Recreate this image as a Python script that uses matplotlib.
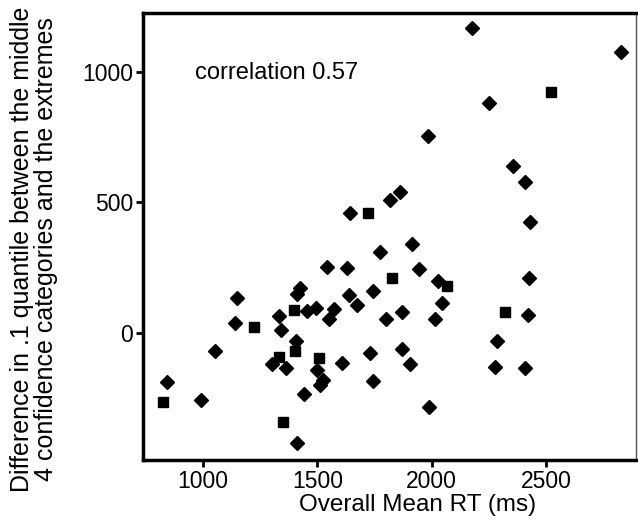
import matplotlib
matplotlib.use("Agg")
from matplotlib import pyplot as plt

plt.rcParams['font.family'] = ['Liberation Sans', 'DejaVu Sans']

# overall mean RT (ms) and difference in .1 quantile
sq_rt = [1720, 1825, 2066, 2319, 2520, 1397, 1223, 1402, 1507, 1332, 825, 1349]
sq_diff = [460, 211, 180, 80, 923, 88, 23, -69, -96, -92, -264, -341]

dm_rt = [2175, 2825, 2249, 1983, 2354, 2406, 1860, 1817, 2428, 1642,
         1913, 1773, 1943, 2026, 2424, 2044, 1869, 1799, 2013, 2419,
         2284, 1869, 1904, 2275, 2406, 1987,
         1541, 1629, 1424, 1410, 1148, 1638, 1672, 1742, 1454, 1493,
         1572, 1550, 1332, 1140, 1341, 1052, 1406, 1729, 1607, 1498,
         1524, 1511, 1301, 1362, 1742, 843, 991, 1441, 1410]
dm_diff = [1169, 1077, 881, 755, 640, 579, 540, 510, 425, 460,
           341, 310, 245, 199, 211, 115, 80, 54, 54, 69,
           -31, -61, -119, -130, -134, -284,
           253, 249, 172, 149, 134, 146, 107, 161, 84, 96,
           92, 54, 65, 38, 11, -69, -31, -77, -115, -142,
           -180, -199, -119, -134, -184, -188, -257, -234, -421]

fig = plt.figure(figsize=(6.38, 5.21), dpi=100)
ax = fig.add_axes([0.224, 0.117, 0.773, 0.858])

ax.plot(dm_rt, dm_diff, linestyle='none', marker='D', markersize=7, color='black')
ax.plot(sq_rt, sq_diff, linestyle='none', marker='s', markersize=7.5, color='black')

ax.set_xlim(738, 2893)
ax.set_ylim(-487, 1226)
ax.set_xticks([1000, 1500, 2000, 2500])
ax.set_yticks([0, 500, 1000])

for side in ['left', 'top', 'bottom']:
    ax.spines[side].set_linewidth(2.5)
ax.spines['right'].set_linewidth(1.0)
ax.spines['right'].set_color('#555555')

ax.tick_params(direction='out', length=5, width=2, labelsize=16.5, pad=2)

ax.text(0.105, 0.866, 'correlation 0.57', transform=ax.transAxes,
        fontsize=17, va='center')

ax.set_xlabel('Overall Mean RT (ms)', fontsize=17.5, labelpad=1)
ax.xaxis.set_label_coords(0.556, -0.075)

# y label placed by hand, it sits a bit lower than the axes centre
fig.text(0.054, 0.522,
         'Difference in .1 quantile between the middle\n4 confidence categories and the extremes',
         rotation=90, fontsize=18, ha='center', va='center',
         multialignment='center', linespacing=1.0)

plt.savefig('out.png', dpi=100)
plt.close()
